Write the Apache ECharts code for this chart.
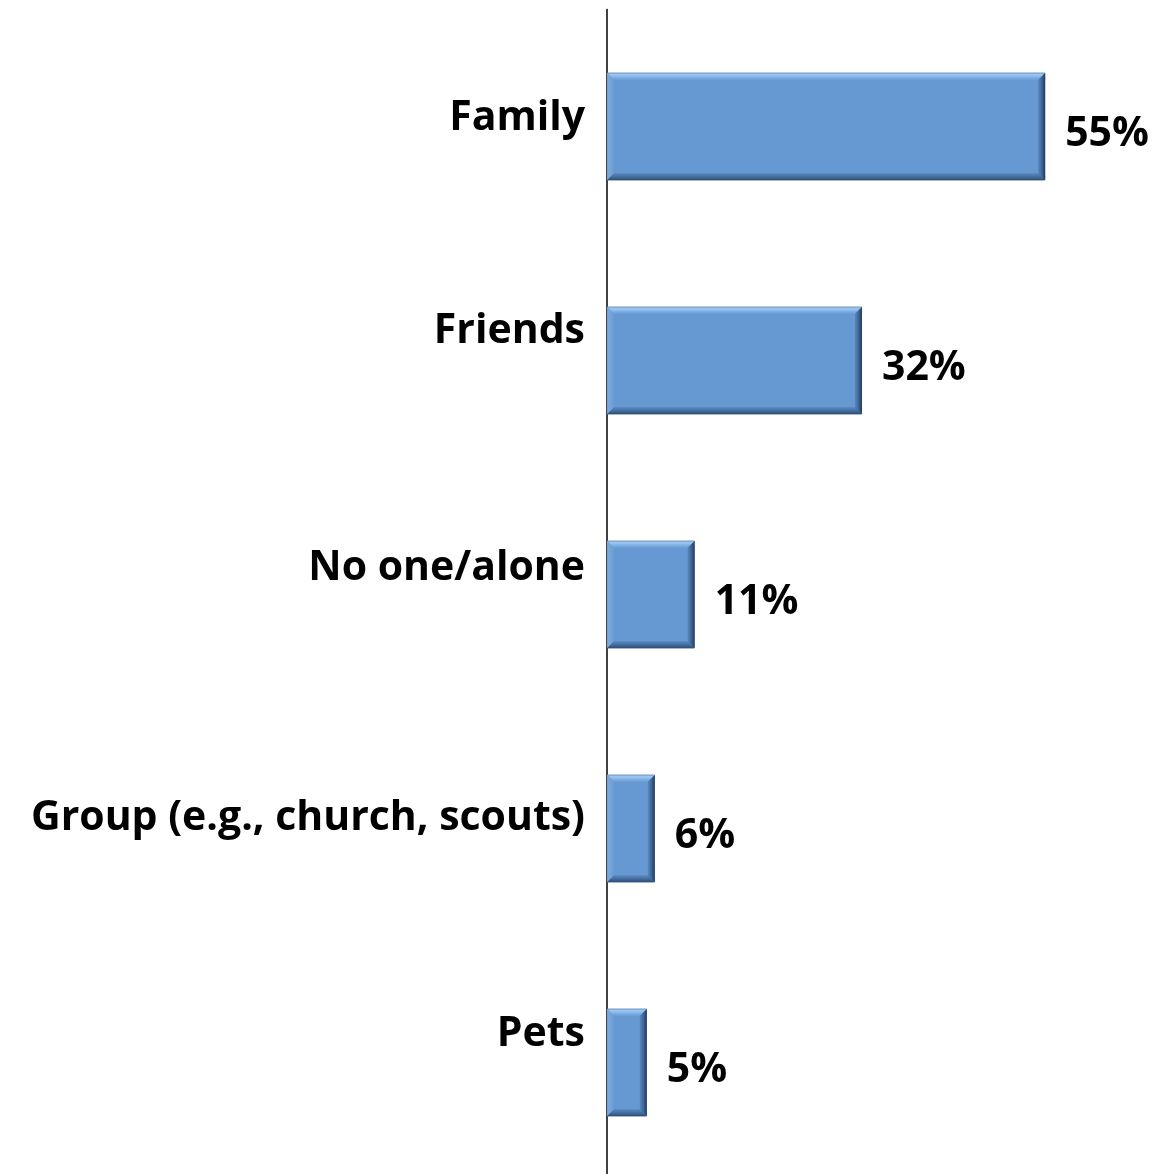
<!DOCTYPE html>
<html>
<head>
<meta charset="utf-8">
<script src="https://cdn.jsdelivr.net/npm/echarts@6/dist/echarts.min.js"></script>
<style>
  html, body { margin: 0; padding: 0; background: #ffffff; overflow: hidden; }
  #chart { width: 1154px; height: 1180px; }
</style>
</head>
<body>
<div id="chart"></div>
<script>
// Who people turn to — share of responses
const categories = ['Family', 'Friends', 'No one/alone', 'Group (e.g., church, scouts)', 'Pets'];
const values = [55, 32, 11, 6, 5];

// How far each category label sits above its bar centre (px)
const labelLift = [8, 29, 26, 10, 28];

const FONT = '"Open Sans", "Noto Sans", sans-serif';
const BAR_RATIO = 0.46;
const BEVEL = 7;

const chart = echarts.init(document.getElementById('chart'));

// Bevelled edges drawn over each flat bar
function renderBevel(params, api) {
  const v = api.value(0);
  const idx = api.value(1);
  const origin = api.coord([0, idx]);
  const end = api.coord([v, idx]);
  const band = api.size([0, 1])[1];
  const h = band * BAR_RATIO;
  const x0 = origin[0], x1 = end[0];
  const y0 = origin[1] - h / 2, y1 = origin[1] + h / 2;
  const b = Math.min(BEVEL, (x1 - x0) / 3);
  const poly = (pts, fill) => ({ type: 'polygon', shape: { points: pts }, style: { fill: fill }, silent: true });
  return {
    type: 'group',
    children: [
      poly([[x0, y0], [x0 + b, y0 + b], [x0 + b, y1 - b], [x0, y1]],
        new echarts.graphic.LinearGradient(0, 0, 1, 0, [
          { offset: 0, color: 'rgba(140,185,235,0.55)' },
          { offset: 1, color: 'rgba(140,185,235,0.1)' }
        ])),
      poly([[x0, y1], [x0 + b, y1 - b], [x1 - b, y1 - b], [x1, y1]],
        new echarts.graphic.LinearGradient(0, 0, 0, 1, [
          { offset: 0, color: 'rgba(60,100,150,0.35)' },
          { offset: 1, color: 'rgba(35,65,105,0.9)' }
        ])),
      poly([[x1, y0], [x1 - b, y0 + b], [x1 - b, y1 - b], [x1, y1]],
        new echarts.graphic.LinearGradient(0, 0, 1, 0, [
          { offset: 0, color: 'rgba(60,100,150,0.35)' },
          { offset: 1, color: 'rgba(25,50,85,0.95)' }
        ])),
      poly([[x0, y0], [x1, y0], [x1 - b, y0 + b], [x0 + b, y0 + b]],
        new echarts.graphic.LinearGradient(0, 0, 0, 1, [
          { offset: 0, color: 'rgba(120,150,190,0.9)' },
          { offset: 0.3, color: 'rgba(160,205,250,0.95)' },
          { offset: 1, color: 'rgba(130,175,228,0.3)' }
        ]))
    ]
  };
}

chart.setOption({
  animation: false,
  grid: { left: 607, right: 69, top: 9.5, bottom: 0.5, containLabel: false },
  xAxis: {
    type: 'value',
    min: 0,
    max: 60,
    show: false
  },
  yAxis: {
    type: 'category',
    inverse: true,
    data: categories,
    axisLine: { show: true, lineStyle: { color: '#000', width: 1.5 } },
    axisTick: { show: false },
    axisLabel: { show: false }
  },
  series: [{
    // category names, anchored to the axis and lifted above each bar
    type: 'bar',
    barGap: '-100%',
    barWidth: (BAR_RATIO * 100) + '%',
    silent: true,
    itemStyle: { color: 'transparent' },
    data: categories.map((name, i) => ({
      value: 0,
      label: { offset: [0, -labelLift[i]] }
    })),
    label: {
      show: true,
      position: 'left',
      distance: 22,
      formatter: (p) => categories[p.dataIndex],
      color: '#000',
      fontFamily: FONT,
      fontWeight: 'bold',
      fontSize: 41
    }
  }, {
    type: 'bar',
    data: values,
    barWidth: (BAR_RATIO * 100) + '%',
    itemStyle: {
      color: '#6699d1',
      borderColor: '#6d8fb8',
      borderWidth: 0.8
    },
    label: {
      show: true,
      position: 'right',
      distance: 20,
      offset: [0, 7.5],
      formatter: '{c}%',
      color: '#000',
      fontFamily: FONT,
      fontWeight: 'bold',
      fontSize: 41
    }
  }, {
    type: 'custom',
    data: values.map((v, i) => [v, i]),
    encode: { x: 0, y: 1 },
    renderItem: renderBevel,
    silent: true,
    z: 3
  }]
});
</script>
</body>
</html>
